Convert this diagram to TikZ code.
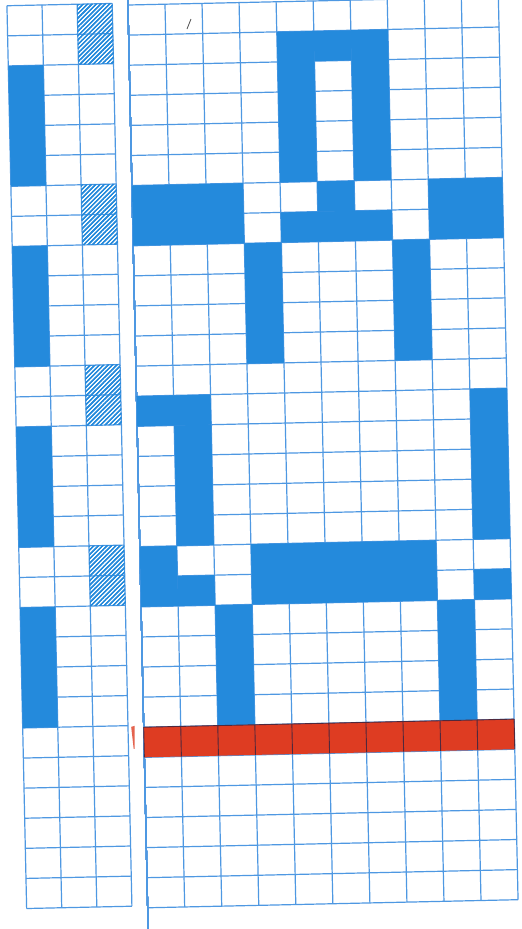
\documentclass[tikz,border=0pt]{standalone}
\usetikzlibrary{patterns.meta}
\definecolor{gridblue}{RGB}{78,152,226}
\definecolor{fillblue}{RGB}{36,138,220}
\definecolor{barred}{RGB}{222,60,34}
\definecolor{darkline}{RGB}{80,40,60}
\tikzset{
  gridline/.style={draw=gridblue,line width=1.2pt},
  bluecell/.style={fill=fillblue},
  hatchcell/.style={pattern={Lines[angle=45,distance=3.1pt,line width=1.1pt]},pattern color=fillblue},
  redcell/.style={fill=barred},
  redgrid/.style={draw=darkline,line width=0.9pt}
}
\def\Lx{17}\def\Lw{35.1}\def\Ly{0.3}
\def\Rx{138}\def\Rw{37.05}\def\Ry{2.2}
\def\Rh{30.1}
\newcommand\rfill[5][bluecell]{\path[#1] ({\Rx+#2*\Rw},{\Ry+#3*\Rh}) rectangle ({\Rx+(#4+1)*\Rw},{\Ry+(#5+1)*\Rh});}
\newcommand\lfill[5][bluecell]{\path[#1] ({\Lx+#2*\Lw},{\Ly+#3*\Rh}) rectangle ({\Lx+(#4+1)*\Lw},{\Ly+(#5+1)*\Rh});}
\begin{document}
\begin{tikzpicture}[x=1pt,y=-1pt]
\useasboundingbox (0,0) rectangle (522,929);
\fill[white] (0,0) rectangle (522,929);
\clip (0,0) rectangle (522,929);
\begin{scope}[rotate around={1.25:(261,464.5)}]
  % ---------- left grid ----------
  \foreach \i in {0,...,3}
    \draw[gridline] ({\Lx+\i*\Lw},{\Ly}) -- ({\Lx+\i*\Lw},{\Ly+30*\Rh});
  \foreach \j in {0,...,30}
    \draw[gridline] ({\Lx},{\Ly+\j*\Rh}) -- ({\Lx+3*\Lw},{\Ly+\j*\Rh});
  \foreach \r in {2,8,14,20}
    \lfill{0}{\r}{0}{\r+3}
  \foreach \r in {0,6,12,18}
    \lfill[hatchcell]{2}{\r}{2}{\r+1}
  % ---------- right grid ----------
  \draw[gridline] ({\Rx},-30) -- ({\Rx},960);
  \foreach \i in {1,...,10}
    \draw[gridline] ({\Rx+\i*\Rw},{\Ry}) -- ({\Rx+\i*\Rw},{\Ry+30*\Rh});
  \foreach \j in {0,...,30}
    \draw[gridline] ({\Rx},{\Ry+\j*\Rh}) -- ({\Rx+10*\Rw},{\Ry+\j*\Rh});
  % top loop
  \rfill{4}{1}{4}{5}
  \rfill{5}{1}{5}{1}
  \rfill{6}{1}{6}{5}
  % rows 6-7
  \rfill{0}{6}{2}{7}
  \rfill{5}{6}{5}{6}
  \rfill{4}{7}{6}{7}
  \rfill{8}{6}{9}{7}
  % rows 8-11
  \rfill{3}{8}{3}{11}
  \rfill{7}{8}{7}{11}
  % rows 13-17
  \rfill{0}{13}{1}{13}
  \rfill{1}{14}{1}{17}
  \rfill{9}{13}{9}{17}
  % rows 18-19
  \rfill{0}{18}{0}{19}
  \rfill{1}{19}{1}{19}
  \rfill{3}{18}{7}{19}
  \rfill{9}{19}{9}{19}
  % rows 20-23
  \rfill{2}{20}{2}{23}
  \rfill{8}{20}{8}{23}
  % red bar, row 24
  \rfill[redcell]{0}{24}{9}{24}
  \foreach \i in {0,...,10}
    \draw[redgrid] ({\Rx+\i*\Rw},{\Ry+24*\Rh}) -- ({\Rx+\i*\Rw},{\Ry+25*\Rh});
  \draw[redgrid] ({\Rx},{\Ry+24*\Rh}) -- ({\Rx+10*\Rw},{\Ry+24*\Rh});
  % small red streak left of the bar
  \fill[barred,opacity=0.8] (125.5,724) -- (129,723) -- (128.5,746) -- (127.5,746) -- cycle;
\end{scope}
% pen tick near the top
\draw[black!70,line width=0.8pt] (187,29) -- (191,19);
\end{tikzpicture}
\end{document}
